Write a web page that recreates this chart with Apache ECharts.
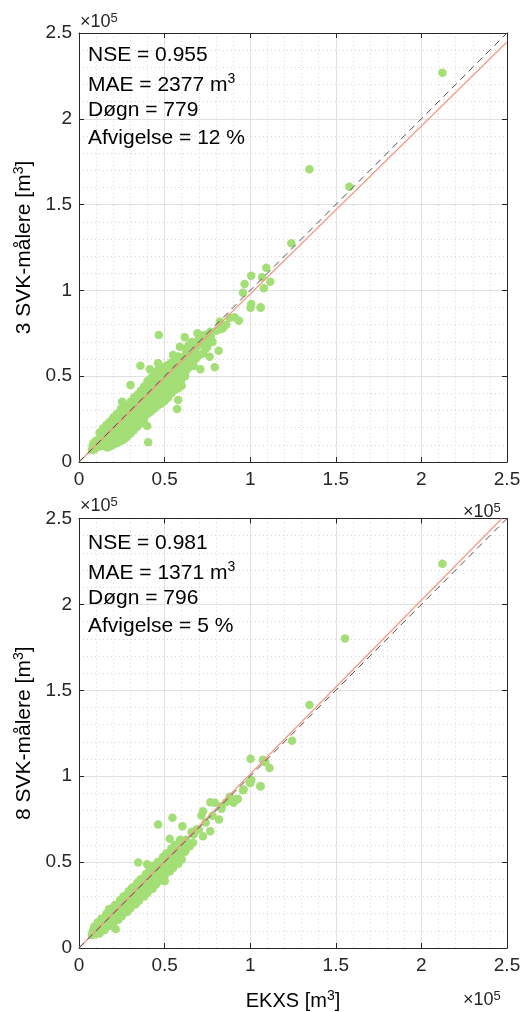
<!DOCTYPE html>
<html><head><meta charset="utf-8">
<script src="https://cdn.jsdelivr.net/npm/echarts@6/dist/echarts.min.js"></script>
<style>html,body{margin:0;padding:0;background:#fff}#c{width:529px;height:1012px}</style>
</head><body><div id="c"></div>
<script>
// values in thousands of m3 (axis shows units of 1e5)
const topPoints = [
[7.5,7],[8,9.5],[8.5,11],[9,7.5],
[10,8.5],[10.5,10.5],[10,12.5],[11,9],
[12,9],[12.5,11.5],[12.5,14],[13.5,10],[13,15.5],
[14.5,9.5],[15,12],[15,14.5],[15.5,17],[16,10.5],[14.5,18],
[17,11],[17.5,13.5],[17.5,16],[18,18.5],[17.5,21],[18.5,12],
[19.5,12.5],[20,15],[20,17.5],[20.5,20],[20,22.5],[21,14],[19.5,24],
[22,13.5],[22.5,16],[22.5,18.5],[23,21],[22.5,23.5],[22,26],[23.5,15],
[24.5,14.5],[25,17],[25,19.5],[25.5,22],[25,24.5],[25,27],[25.2,35.1],[24.5,31],[26,16],
[27,17],[27.5,19.5],[27.5,22],[28,24.5],[27.5,27],[27,29.5],[28.5,18],
[29.5,20],[30,22.5],[30,25],[30.5,27.5],[30,30],[29.5,33],[30.1,44.9],
[32,22],[32.5,24.5],[32.5,27],[33,29.5],[32.5,32],[32,35],
[34.5,24],[35,26.5],[35,29],[35.5,31.5],[35,34],[34.5,37],[36,39],
[37,27],[37.5,29.5],[37.5,32],[38,34.5],[37.5,37],[37,40],[38,42],
[39.5,30],[40,32.5],[40,35],[40.5,37.5],[40,40],[39.5,43],[40.5,45],
[42,32],[42.5,34.5],[42.5,37],[43,39.5],[42.5,42],[42,45],[43,47],
[44.5,33.5],[45,36],[45,38.5],[45.5,41],[45,43.5],[44.5,46],[45.5,49],
[47,35.5],[47.5,38],[47.5,40.5],[48,43],[47.5,45.5],[47,48],[48,51],
[49.5,37.5],[50,40],[50,42.5],[50.5,45],[50,47.5],[49.5,50],[50.5,53],
[52,40],[52.5,42.5],[52.5,45],[53,47.5],[52.5,50],[52,53],[53,55],
[54.5,42.5],[55,45],[55,47.5],[55.5,50],[55,52.5],[54.5,55],[55.5,57],
[57,45],[57.5,47.5],[57.5,50],[58,52.5],[57.5,55],[57,58],
[59.5,47],[60,49.5],[60,52],[60.5,54.5],[60,57],[59.5,60],
[62,50],[62.5,53],[63,56],[62.5,59],[62,62],
[20,10],[22,11],[24,12],[26,13],[28,14.5],[30,16.5],[32,18.5],[34,20.5],[36,22.5],[38,25],
[40,28],[42,29.5],[44,31],[46,33],[48,34],[50,35.5],[52,37.5],[54,40],[56,42],[58,43],[60,44.5],
[16.5,8.5],[18,9],
[12,17],[14,19.5],[16,21.5],[18,23.5],[20,26],[22,28],[24,29],[26,30],[28,32],[30,35],
[32,37.5],[34,39],[36,41.5],[38,44],[40,47],[42,49],[44,51],[46,50],[48,53],[50,55.5],
[52,56.5],[54,58],[56,60],[58,61.5],
[62,66],[64,68],[66,70],[70,72],[73,74],[66,58],[68,60],[70,62],[74,66],[78,70],
[84,78],[86,80],[88,84],[64,55],[67,56],[75,67],
[65,62],[68,66],[70,68],[74,71],[77,73],
[57.3,30.9],[57.9,36.1],[39.8,21.0],[40.4,11.5],[35.9,56.1],[41.4,54.0],
[46.6,74.0],[58.9,67.2],[55.0,62.4],[60.8,60.4],[55.9,58.5],[63.7,63.3],[67.6,64.3],[65.7,59.8],
[61.8,72.7],[69.2,75.0],[72.4,70.1],[72.4,63.3],[76.3,61.4],[70.9,54.0],[79.3,55.2],[81.6,64.9],
[76.7,75.9],[80.2,76.5],[82.8,77.3],[82.2,81.8],[90.9,84.3],[93.4,82.3],[100.6,92.1],[106.1,90.2],
[100.2,89.9],[106.1,89.9],[95.8,98.7],[96.7,103.7],[108.0,101.2],[111.7,105.1],[107.0,107.6],
[100.6,108.6],[109.4,113.2],[124.0,127.5],[134.6,170.6],[157.9,160.4],[212.3,226.9],
[52.0,52.6],[58.9,51.7],[60.8,49.7],[54.0,47.8],[47.2,46.8],[49.1,43.0],[43.3,41.0],[51.1,39.0],
[46.2,36.1],[46.2,53.6],[46.2,57.5],[59.3,44.9],[58.3,52.6],[45.6,52.6],[46.6,48.2]
];
const bottomPoints = [
[7.5,7.5],[8,9.5],[8.5,11],[9.5,8],
[10,9],[10.5,11],[10,13],[11,10],
[12,10.5],[12.5,12.5],[12.5,14.5],[13.5,11.5],
[14.5,12],[15,14],[15,16],[15.5,18],[16,13],
[17,14],[17.5,16],[17.5,18],[18,20],[17.5,22.6],[18.5,15],
[19.5,16],[20,18],[20,20],[20.5,22],[21,17],
[22,17.5],[22.5,19.5],[22.5,21.5],[23,23.5],[22.5,25],[21.4,11],[23.5,18.5],
[24.5,20],[25,22],[25,24],[25.5,26],[25,28],[26,21],
[27,22.5],[27.5,24.5],[27.5,26.5],[28,28.5],[27.5,30.5],[28.5,23.5],
[29.5,25],[30,27],[30,29],[30.5,31],[30,33],[31,26],
[32,27],[32.5,29],[32.5,31],[33,33],[32.5,35.5],[33.5,28],
[34.5,29],[35,31],[35,33],[35.5,35],[35,37.5],[36,30],
[37,31.5],[37.5,33.5],[37.5,35.5],[38,37.5],[37.5,40],[38.5,32],
[39.5,34],[40,36],[40,38],[40.5,40],[40,42.5],[41,35],
[42,36.5],[42.5,38.5],[42.5,40.5],[43,42.5],[42.5,45],
[44.5,39],[45,41],[45,43],[45.5,45],[45,47.5],[46,40],
[47,41.5],[47.5,43.5],[47.5,45.5],[48,47.5],[47.5,50],
[49.5,44],[50,46],[50,48],[50.5,50],[50,52],
[52,46.5],[52.5,48.5],[52.5,50.5],[53,52.5],[52.5,54.5],
[54.5,48.5],[55,50.5],[55,52.5],[55.5,54.5],[55,57],
[57,51],[57.5,53],[57.5,55],[58,57],[57.5,59],
[59.5,53.5],[60,55.5],[60,57.5],[60.5,59.5],[60,61.5],
[62,56],[62.5,58.5],[63,61],[62.5,63],
[12,8.5],[15,10.5],[18,13],[20,14.5],[23,16.5],[25,18.5],[28,21],[30,23],[33,25.5],[35,27.5],
[38,30],[40,32],[43,34.5],[45,37],[48,39.5],[50,42],[53,44.5],[55,46.5],[58,49],[60,51.5],
[9,12.5],[11,15],[13,17],[16,20],[19,23],[21,25],[24,28],[26,30],[29,33],[31,35],
[34,38],[36,40],[39,43],[41,45],[44,48],[46,50],[49,53],[51,55],[54,58],[56,60],[59,63],
[67,66],[70,69],[74,73],[78,77],[86,85],[88,88],
[34.6,49.7],[39.8,48.7],[57.3,50.6],[50.1,39.0],[44.3,39.0],[48.2,42.9],[43.3,45.8],[46.2,47.7],
[50.1,49.7],[56.9,50.6],[58.9,52.6],[53.0,55.5],[55.9,57.4],[62.4,57.4],[64.7,59.3],[66.6,61.3],
[58.9,60.9],[61.8,62.2],[53.0,63.6],[72.4,65.1],[76.7,68.0],[65.7,67.5],[68.6,69.0],[60.4,70.9],
[46.2,71.9],[81.8,74.8],[54.6,75.8],[71.5,77.1],[83.2,81.0],[72.4,79.6],[76.7,84.9],[79.3,84.5],
[90.3,84.5],[92.3,86.8],[95.8,91.8],[99.7,96.5],[106.1,94.1],[96.2,92.2],[92.8,86.8],[83.2,82.5],
[100.1,96.1],[105.9,94.1],[100.6,98.0],[111.3,104.8],[108.8,108.1],[107.4,109.6],[100.2,110.2],
[124.5,120.6],[134.6,141.5],[155.4,180.2],[212.3,223.7]
];
const identityLine = [[0,0],[250,250]];
const topFit = [[0,0],[250,244.8]];
const bottomFit = [[0,0],[247,250]];
const tickLabels = ['0','0.5','1','1.5','2','2.5'];
const topStats = ['NSE = 0.955','MAE = 2377 m{sup|3}','Døgn = 779','Afvigelse = 12 %'];
const bottomStats = ['NSE = 0.981','MAE = 1371 m{sup|3}','Døgn = 796','Afvigelse = 5 %'];
const yNames = ['3 SVK-målere [m{sup|3}]','8 SVK-målere [m{sup|3}]'];
const xName = 'EKXS [m{sup|3}]';

const FONT = '"Liberation Sans", Arial, Helvetica, sans-serif';
const AX = '#262626';
const grids = [
  {left:79, top:33, width:428, height:429},
  {left:79, top:518.5, width:428, height:430.5}
];
const supRich = {sup:{fontSize:14, fontFamily:FONT, color:'#000', verticalAlign:'bottom', padding:[0,0,10,0]}};
function fmt(v){ return tickLabels[Math.round(v/50)]; }
const xAxes = [], yAxes = [];
grids.forEach((g,i)=>{
  xAxes.push({gridIndex:i, type:'value', min:0, max:250, interval:50, position:'bottom',
    axisLine:{show:true, onZero:false, lineStyle:{color:AX}},
    axisTick:{show:true, inside:true, length:5, lineStyle:{color:AX}},
    axisLabel:{show:true, formatter:fmt, color:AX, fontSize:19, fontFamily:FONT, margin:8},
    splitLine:{show:true, lineStyle:{color:'#e0e0e0', width:1}},
    minorTick:{show:false, splitNumber:5},
    minorSplitLine:{show:true, lineStyle:{color:'#d6d6d6', type:[1,3], width:1}},
    name: i===1 ? xName : '', nameLocation:'middle', nameGap:41,
    nameTextStyle:{fontSize:20, fontFamily:FONT, color:'#000', rich:supRich}
  });
  xAxes.push({gridIndex:i, type:'value', min:0, max:250, interval:50, position:'top',
    axisLine:{show:true, onZero:false, lineStyle:{color:AX}},
    axisTick:{show:true, inside:true, length:5, lineStyle:{color:AX}},
    axisLabel:{show:false}, splitLine:{show:false}});
  yAxes.push({gridIndex:i, type:'value', min:0, max:250, interval:50, position:'left',
    axisLine:{show:true, onZero:false, lineStyle:{color:AX}},
    axisTick:{show:true, inside:true, length:5, lineStyle:{color:AX}},
    axisLabel:{show:true, formatter:fmt, color:AX, fontSize:19, fontFamily:FONT, margin:7},
    splitLine:{show:true, lineStyle:{color:'#e0e0e0', width:1}},
    minorTick:{show:false, splitNumber:5},
    minorSplitLine:{show:true, lineStyle:{color:'#d6d6d6', type:[1,3], width:1}},
    name: yNames[i], nameLocation:'middle', nameGap:36,
    nameTextStyle:{fontSize:21, fontFamily:FONT, color:'#000', rich:supRich}
  });
  yAxes.push({gridIndex:i, type:'value', min:0, max:250, interval:50, position:'right',
    axisLine:{show:true, onZero:false, lineStyle:{color:AX}},
    axisTick:{show:true, inside:true, length:5, lineStyle:{color:AX}},
    axisLabel:{show:false}, splitLine:{show:false}});
});

const series = [];
[[topPoints, topFit],[bottomPoints, bottomFit]].forEach((p,i)=>{
  series.push({type:'scatter', xAxisIndex:2*i, yAxisIndex:2*i, data:p[0], symbolSize:8.5,
    itemStyle:{color:'#a3de76', opacity:1}, silent:true, z:2});
  series.push({type:'line', xAxisIndex:2*i, yAxisIndex:2*i, data:p[1], showSymbol:false,
    lineStyle:{color:'#f59c85', width:1.3}, silent:true, z:3, clip:true});
  series.push({type:'line', xAxisIndex:2*i, yAxisIndex:2*i, data:identityLine, showSymbol:false,
    lineStyle:{color:'#505050', width:1, type:[7,5]}, silent:true, z:4, clip:true});
});

const statsRich = {sup:{fontSize:14, fontFamily:FONT, color:'#000', verticalAlign:'bottom', padding:[0,0,11,0]}};
const graphics = [];
[[topStats, 57],[bottomStats, 545]].forEach(s=>{
  s[0].forEach((t,k)=>{
    graphics.push({type:'text', left:88, top:s[1]+k*27.6-12, z:10,
      style:{text:t, font:'21px '+FONT, fill:'#000', rich:statsRich}});
  });
});
const expRich = {sup:{fontSize:13, fontFamily:FONT, fill:'#262626', color:'#262626', verticalAlign:'bottom', padding:[0,0,8,0]}};
[[80,12],[463,502],[80,496],[463,990]].forEach(pos=>{
  graphics.push({type:'text', left:pos[0], top:pos[1], z:10,
    style:{text:'×10{sup|5}', font:'18px '+FONT, fill:'#262626', rich:expRich}});
});

const chart = echarts.init(document.getElementById('c'), null, {renderer:'canvas'});
chart.setOption({
  animation:false, backgroundColor:'#fff',
  grid: grids, xAxis:xAxes, yAxis:yAxes, series:series, graphic:graphics
});
</script></body></html>
